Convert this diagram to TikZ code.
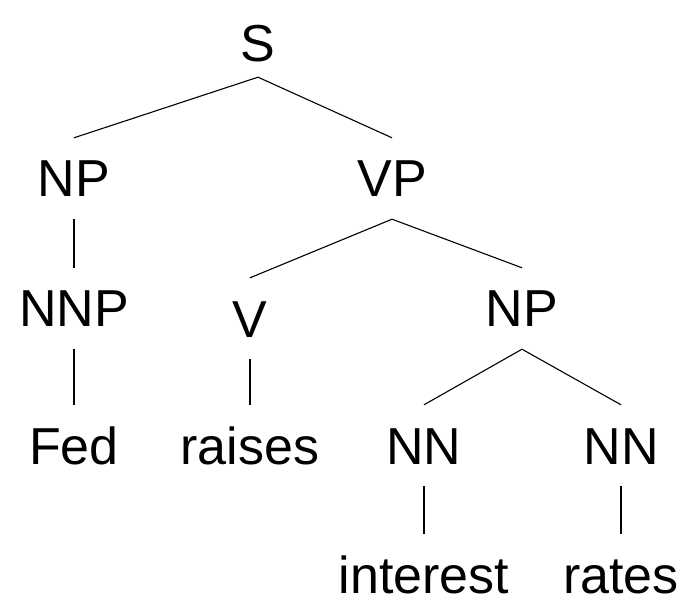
\documentclass[tikz,border=0pt]{standalone}
\usepackage{fontspec}
\setmainfont{Liberation Sans}
\begin{document}
\begin{tikzpicture}[x=1pt,y=1pt,
  lab/.style={anchor=base,font=\fontsize{52}{60}\selectfont,text height=37pt,text depth=0pt,inner xsep=0pt,inner ysep=22pt},
  leaf/.style={lab,text height=59pt,inner ysep=0pt},
  edge/.style={line width=1.1pt}]
\useasboundingbox (0,0) rectangle (684,600);
\node[lab,inner ysep=15pt] (S) at (258,538) {S};
\node[lab] (NP) at (74,403) {NP};
\node[lab] (VP) at (392,403) {VP};
\node[lab] (NNP) at (74,273) {NNP};
\node[lab] (V) at (250,263) {V};
\node[lab] (NP2) at (522,273) {NP};
\node[lab] (Fed) at (74,136) {Fed};
\node[lab] (raises) at (250,136) {raises};
\node[lab] (NN1) at (424,136) {NN};
\node[lab] (NN2) at (621,136) {NN};
\node[leaf] (interest) at (424,7) {interest};
\node[leaf] (rates) at (621,7) {rates};
\draw[edge] (NP.north) -- (S.south) -- (VP.north);
\draw[edge] (NP.south) -- (NNP.north);
\draw[edge] (NNP.south) -- (Fed.north);
\draw[edge] (V.north) -- (VP.south) -- (NP2.north);
\draw[edge] (V.south) -- (raises.north);
\draw[edge] (NN1.north) -- (NP2.south) -- (NN2.north);
\draw[edge] (NN1.south) -- (interest.north);
\draw[edge] (NN2.south) -- (rates.north);
\end{tikzpicture}
\end{document}
